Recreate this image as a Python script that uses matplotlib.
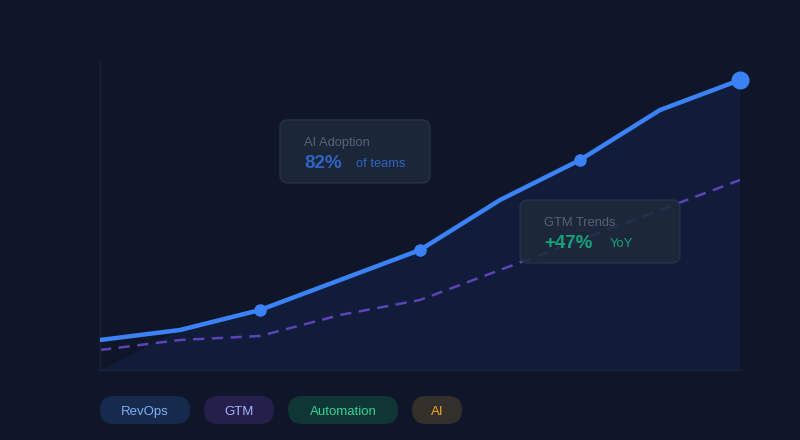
import numpy as np
import matplotlib.pyplot as plt
from matplotlib.patches import FancyBboxPatch

# data (arbitrary units, baseline = 0)
months = np.arange(9)
adoption = [30, 40, 60, 90, 120, 170, 210, 260, 290]
trend = [20, 30, 34, 55, 70, 100, 130, 160, 190]
marker_idx = [2, 4, 6]
tags = ['RevOps', 'GTM', 'Automation', 'AI']
tag_bg = ['#162a4e', '#251f4b', '#0f3535', '#332f2b']
tag_fg = ['#7fb0f5', '#a5b4fc', '#34d399', '#f5a524']

bg = '#0f1629'
fig = plt.figure(figsize=(8, 4.4), dpi=100, facecolor=bg)

# main chart area: 100..740 px wide, 60..370 px tall
ax = fig.add_axes([100 / 800, 70 / 440, 640 / 800, 310 / 440])
ax.set_facecolor(bg)
ax.set_xlim(0, 8)
ax.set_ylim(0, 310)

# area fill starts from the baseline at the first point
fx = list(months) + [8]
fy = [0] + adoption[1:] + [0]
ax.fill(fx, fy, color='#1d3a8a', alpha=0.18, lw=0, zorder=1)

ax.plot(months, trend, color='#5b44b8', lw=1.8, dashes=(4.5, 3), zorder=2)
ax.plot(months, adoption, color='#3b82f6', lw=3.2, solid_capstyle='round',
        solid_joinstyle='round', zorder=3)
ax.plot([months[i] for i in marker_idx], [adoption[i] for i in marker_idx],
        'o', color='#3b82f6', ms=8, zorder=4)
ax.plot(months[-1], adoption[-1], 'o', color='#3b82f6', ms=12, zorder=4, clip_on=False)

for s in ['top', 'right']:
    ax.spines[s].set_visible(False)
for s in ['left', 'bottom']:
    ax.spines[s].set_color('#1a2336')
    ax.spines[s].set_linewidth(1)
ax.set_xticks([])
ax.set_yticks([])

# overlay in pixel coords for cards and tags
ov = fig.add_axes([0, 0, 1, 1])
ov.set_xlim(0, 800)
ov.set_ylim(440, 0)
ov.axis('off')
ov.patch.set_alpha(0)


def card(x, y, w, h, title, big, small, col, small_dx):
    ov.add_patch(FancyBboxPatch((x, y), w, h, boxstyle='round,pad=0,rounding_size=8',
                                fc='#1e293b', ec='#2a3548', lw=1, alpha=0.85, zorder=5))
    ov.text(x + 24, y + 23, title, color='#55637a', fontsize=9.3, va='center',
            family='Liberation Sans', zorder=6)
    ov.text(x + 24, y + 43, big, color=col, fontsize=13.5, fontweight='bold', va='center',
            family='Liberation Sans', zorder=6)
    ov.text(x + small_dx, y + 44, small, color=col, fontsize=9.3, va='center',
            family='Liberation Sans', zorder=6)


card(280, 120, 150, 63, 'AI Adoption', '82%', 'of teams', '#2f64c4', 76)
card(520, 200, 160, 63, 'GTM Trends', '+47%', 'YoY', '#14a37a', 90)

tag_x = [100, 204, 288, 412]
tag_w = [90, 70, 110, 50]
for t, x, w, b, f in zip(tags, tag_x, tag_w, tag_bg, tag_fg):
    ov.add_patch(FancyBboxPatch((x, 396), w, 28, boxstyle='round,pad=0,rounding_size=14',
                                fc=b, ec='none', zorder=5))
    ov.text(x + w / 2, 412, t, color=f, fontsize=9.5, ha='center', va='center',
            family='Liberation Sans', zorder=6)

fig.savefig('out.png', dpi=100, facecolor=bg)
